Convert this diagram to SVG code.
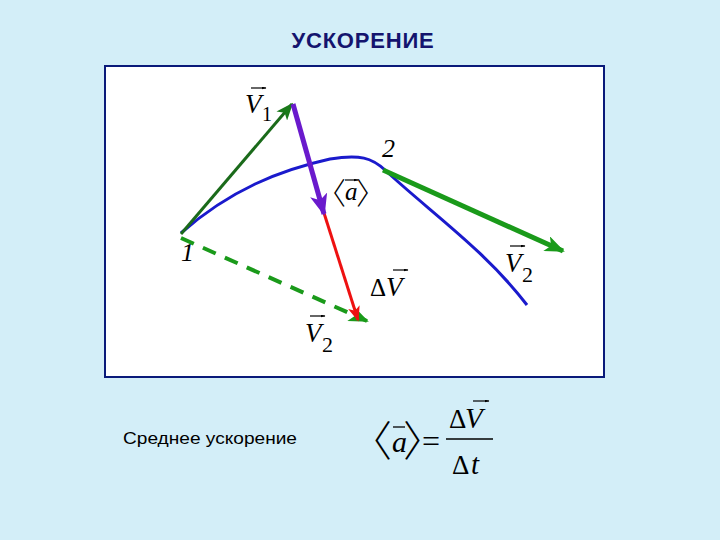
<svg xmlns="http://www.w3.org/2000/svg" width="720" height="540" viewBox="0 0 720 540">
<defs>
<style>
.m{font-family:"Liberation Serif","Times New Roman",serif;font-style:italic;fill:#000}
.r{font-family:"Liberation Serif","Times New Roman",serif;fill:#000}
.br{font-family:"Noto Sans CJK JP","Noto Sans CJK SC",sans-serif;font-weight:300;font-style:normal;fill:#000}
</style>
<marker id="ag" viewBox="0 0 20 16" refX="18" refY="8" markerWidth="20" markerHeight="16" markerUnits="userSpaceOnUse" orient="auto"><path d="M0,0 L20,8 L0,16 L5,8 Z" fill="#1a9a1a"/></marker>
<marker id="agd" viewBox="0 0 20 16" refX="18" refY="8" markerWidth="18" markerHeight="14" markerUnits="userSpaceOnUse" orient="auto"><path d="M0,0 L20,8 L0,16 L5,8 Z" fill="#1a7a1a"/></marker>
<marker id="ap" viewBox="0 0 20 16" refX="18" refY="8" markerWidth="22" markerHeight="18" markerUnits="userSpaceOnUse" orient="auto"><path d="M0,0 L20,8 L0,16 L5,8 Z" fill="#6a1acc"/></marker>
<marker id="ar" viewBox="0 0 20 16" refX="18" refY="8" markerWidth="16" markerHeight="12" markerUnits="userSpaceOnUse" orient="auto"><path d="M0,0 L20,8 L0,16 L5,8 Z" fill="#ee1111"/></marker>
<marker id="vec" viewBox="0 0 10 6" refX="9" refY="3" markerWidth="5" markerHeight="3" markerUnits="userSpaceOnUse" orient="auto"><path d="M0,0 L10,3 L0,6 Z" fill="#000"/></marker>
</defs>
<rect width="720" height="540" fill="#d3eef8"/>
<text x="363" y="48" text-anchor="middle" font-family="Liberation Sans,Arial,sans-serif" font-weight="bold" font-size="22" letter-spacing="0.8" fill="#14146e">УСКОРЕНИЕ</text>
<rect id="frame" x="105" y="66" width="499" height="311" fill="#ffffff" stroke="#0a1a7a" stroke-width="2"/>
<g id="connectors" fill="none">
<path id="trajectory" d="M181,233 C230,190 280,170 330,159 C360,154 372,158 385,170 C430,212 485,250 527,305" stroke="#1a1acc" stroke-width="3"/>
<line id="v2-tangent" x1="383" y1="170" x2="563" y2="251" stroke="#1a9a1a" stroke-width="5" marker-end="url(#ag)"/>
<line id="v1" x1="181" y1="234" x2="292" y2="104" stroke="#1a6a1a" stroke-width="3" marker-end="url(#agd)"/>
<line id="v2-dashed" x1="181" y1="238" x2="367" y2="321" stroke="#1a9a1a" stroke-width="4" stroke-dasharray="14,10" marker-end="url(#ag)"/>
<line id="dv" x1="324" y1="213" x2="358" y2="320" stroke="#ee1111" stroke-width="3" marker-end="url(#ar)"/>
<line id="accel" x1="293" y1="104" x2="324" y2="214" stroke="#6a1acc" stroke-width="5" marker-end="url(#ap)"/>
</g>
<g id="label-v1"><text class="m" x="245" y="113" font-size="27">V</text><text class="r" x="262" y="121" font-size="20">1</text><line x1="251" y1="88" x2="266" y2="88" stroke="#000" stroke-width="1.2" marker-end="url(#vec)"/></g>
<g id="label-2"><text class="m" x="382" y="157" font-size="26">2</text></g>
<g id="label-1"><text class="m" x="181" y="261" font-size="26">1</text></g>
<g id="label-a"><text x="316" y="204"><tspan class="br" font-size="30">〈</tspan><tspan class="m" font-size="25" dx="-1" dy="-4">a</tspan><tspan class="br" font-size="30" dx="-1.5" dy="4">〉</tspan></text><line x1="345" y1="180" x2="358" y2="180" stroke="#000" stroke-width="1.2" marker-end="url(#vec)"/></g>
<g id="label-dv"><text class="r" x="370" y="296" font-size="25">Δ</text><text class="m" x="386" y="296" font-size="27">V</text><line x1="393" y1="270" x2="408" y2="270" stroke="#000" stroke-width="1.2" marker-end="url(#vec)"/></g>
<g id="label-v2a"><text class="m" x="305" y="342" font-size="27">V</text><text class="r" x="322" y="352" font-size="22">2</text><line x1="310" y1="316" x2="325" y2="316" stroke="#000" stroke-width="1.2" marker-end="url(#vec)"/></g>
<g id="label-v2b"><text class="m" x="505" y="272" font-size="27">V</text><text class="r" x="522" y="282" font-size="22">2</text><line x1="510" y1="246" x2="525" y2="246" stroke="#000" stroke-width="1.2" marker-end="url(#vec)"/></g>
<g id="caption"><text x="123" y="444" font-family="Liberation Sans,Arial,sans-serif" font-size="17" textLength="174" lengthAdjust="spacingAndGlyphs" fill="#000">Среднее ускорение</text></g>
<g id="formula">
<text x="350" y="456"><tspan class="br" font-size="42">〈</tspan><tspan class="m" font-size="30" dy="-4">a</tspan><tspan class="br" font-size="42" dx="-4" dy="4">〉</tspan><tspan class="r" font-size="32" dx="-23" dy="-4">=</tspan></text>
<line x1="393" y1="427" x2="405" y2="427" stroke="#000" stroke-width="1.3"/>
<line x1="446" y1="439" x2="493" y2="439" stroke="#000" stroke-width="1.5"/>
<text class="r" x="449" y="428" font-size="27">Δ</text><text class="m" x="465" y="428" font-size="29">V</text>
<line x1="473" y1="401" x2="489" y2="401" stroke="#000" stroke-width="1.2" marker-end="url(#vec)"/>
<text class="r" x="452" y="474" font-size="27">Δ</text><text class="m" x="471" y="474" font-size="29">t</text>
</g>
</svg>
